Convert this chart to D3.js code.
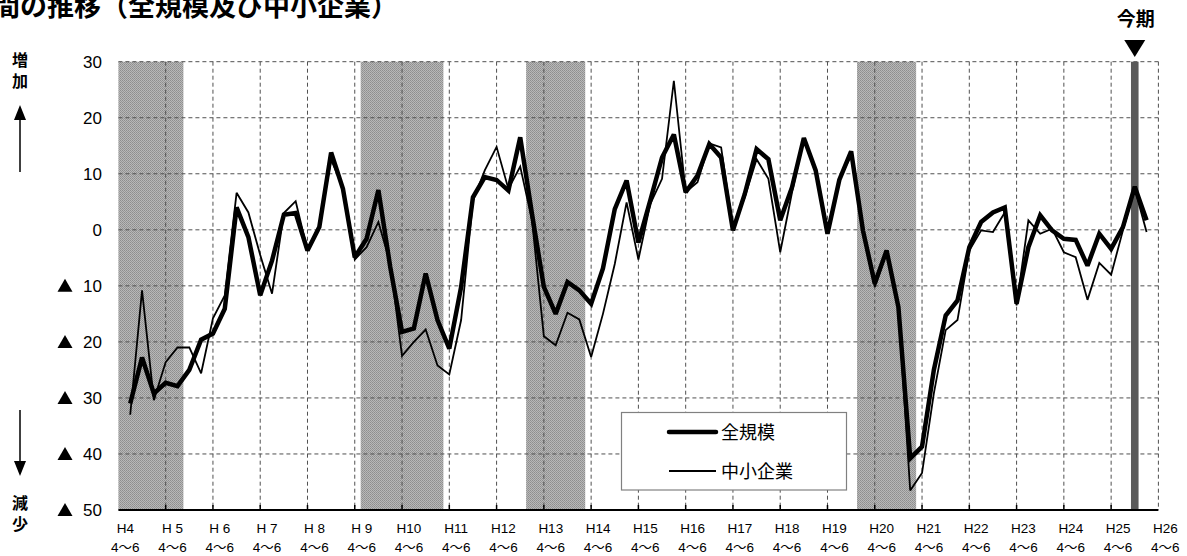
<!DOCTYPE html>
<html>
<head>
<meta charset="utf-8">
<script src="https://cdn.jsdelivr.net/npm/d3@7"></script>
<style>
  html, body { margin: 0; padding: 0; background: #fff; }
  svg { display: block; }
  text { font-family: "Liberation Sans", "Noto Sans CJK JP", sans-serif; }
  .cjk { font-family: "Noto Sans CJK JP", sans-serif; }
</style>
</head>
<body>
<svg id="chart" width="1187" height="556"></svg>
<script>
// ---- data ----
const yearLabels = ["H4","H 5","H 6","H 7","H 8","H 9","H10","H11","H12","H13","H14","H15","H16","H17","H18","H19","H20","H21","H22","H23","H24","H25","H26"];
const quarterLabel = "4～6";
const quarterNames = ["4-6","7-9","10-12","1-3"];
// series start at H4 7-9 (quarter index 1)
const allScale = [
  -31, -22.8, -29.2, -27.3, -27.9, -25, -19.6, -18.5, -14.1, 4.0,
  -1.3, -11.7, -5.5, 2.7, 3.0, -3.7, 0.5, 13.8, 7.3, -4.9,
  -1.6, 7.1, -6.6, -18.2, -17.6, -7.8, -16.1, -21.2, -10.2, 5.8,
  9.4, 8.9, 7.0, 16.5, 2.8, -10.2, -15.0, -9.3, -10.8, -13.2,
  -6.9, 3.7, 8.8, -2.3, 5.2, 12.9, 17.0, 6.7, 9.7, 15.3,
  12.9, -0.1, 6.4, 14.4, 12.6, 1.7, 7.6, 16.4, 10.6, -0.7,
  8.9, 14.0, -0.1, -9.6, -3.7, -13.8, -40.8, -38.7, -25, -15.3,
  -12.6, -3.1, 1.4, 3.1, 4.0, -13.2, -3.1, 2.6, -0.1, -1.6,
  -1.8, -6.4, -0.7, -3.4, 0.5, 7.7, 1.7
];
const smallMedium = [
  -33, -10.8, -30.4, -23.6, -21, -21, -25.6, -15.8, -11.7, 6.6,
  3.1, -4.5, -11.4, 3.0, 5.1, -3.7, 0.8, 12.5, 7.5, -5.3,
  -3.1, 1.4, -6, -22.5, -20, -17.8, -24.2, -25.8, -16.1, 5.2,
  10.6, 14.8, 7.3, 11.3, 1.7, -19, -20.6, -14.8, -16, -22.7,
  -15, -6.1, 4.9, -5.3, 4.6, 9.1, 26.6, 6.7, 8.5, 15.4,
  14.7, 0.2, 5.8, 12.6, 9.1, -4.0, 6.7, 16.2, 10.3, -0.1,
  9.1, 13.2, -0.7, -10.2, -4.0, -14, -46.5, -43.4, -29.2, -17.9,
  -16.1, -3.7, -0.1, -0.4, 3.1, -13.5, 1.7, -0.7, 0.2, -4.0,
  -4.9, -12.5, -5.9, -8.0, -0.1, 7.3, -0.4
];
// recession periods, in quarters counted from H4 4-6
const recessions = [[0, 5.5], [20.5, 27.5], [34.5, 39.5], [62.5, 67.5]];
const currentQuarter = 86;
const yTickValues = [30, 20, 10, 0, -10, -20, -30, -40, -50];
const seriesNames = ["全規模", "中小企業"];
const titleText = "間の推移（全規模及び中小企業）";

// build quarter categories from year labels
const quarters = [];
yearLabels.slice(0, -1).forEach(yl => quarterNames.forEach(q => quarters.push(yl.replace(" ", "") + " " + q)));

// ---- scales ----
const svg = d3.select("#chart");
const x = d3.scaleLinear().domain([0, 88]).range([118.4, 1158.4]);
const y = d3.scaleLinear().domain([-50, 30]).range([510, 61.7]);

// pattern for recession bands
const defs = svg.append("defs");
const pat = defs.append("pattern").attr("id", "dots").attr("width", 2).attr("height", 2).attr("patternUnits", "userSpaceOnUse");
pat.append("rect").attr("width", 2).attr("height", 2).attr("fill", "#b8b8b8");
pat.append("rect").attr("width", 1).attr("height", 1).attr("fill", "#8e8e8e");
pat.append("rect").attr("x", 1).attr("y", 1).attr("width", 1).attr("height", 1).attr("fill", "#979797");

// title (clipped at top/left like the reference)
svg.append("text").attr("class", "cjk").attr("x", -7).attr("y", 16)
  .attr("font-size", 27).attr("font-weight", "bold").attr("fill", "#000").text(titleText);

// recession bands
svg.append("g").selectAll("rect").data(recessions).join("rect")
  .attr("x", d => x(d[0])).attr("width", d => x(d[1]) - x(d[0]))
  .attr("y", y(30)).attr("height", y(-50) - y(30))
  .attr("fill", "url(#dots)");

// horizontal grid
svg.append("g").selectAll("line").data(yTickValues.filter(v => v > -50)).join("line")
  .attr("x1", x(0)).attr("x2", x(88)).attr("y1", d => y(d)).attr("y2", d => y(d))
  .attr("stroke", "#505050").attr("stroke-width", 1).attr("stroke-dasharray", "4,3");

// vertical grid (year boundaries)
const yearIdx = d3.range(1, 23);
svg.append("g").selectAll("line").data(yearIdx).join("line")
  .attr("x1", d => x(d * 4)).attr("x2", d => x(d * 4)).attr("y1", y(30)).attr("y2", y(-50))
  .attr("stroke", "#505050").attr("stroke-width", 1).attr("stroke-dasharray", "4,3");

// current period bar
svg.append("rect").attr("x", x(currentQuarter) - 3.8).attr("width", 7.6)
  .attr("y", y(30)).attr("height", y(-50) - y(30)).attr("fill", "#595959");

// x axis line and ticks
svg.append("line").attr("x1", x(0)).attr("x2", x(88)).attr("y1", y(-50)).attr("y2", y(-50))
  .attr("stroke", "#000").attr("stroke-width", 2);
svg.append("g").selectAll("line").data(d3.range(1, 22)).join("line")
  .attr("x1", d => x(d * 4)).attr("x2", d => x(d * 4)).attr("y1", y(-50)).attr("y2", y(-50) - 5)
  .attr("stroke", "#000").attr("stroke-width", 1.5);

// x labels
const xl = svg.append("g").attr("font-size", 13.5).attr("fill", "#000").attr("text-anchor", "middle");
yearLabels.forEach((lab, i) => {
  const cx = x(i * 4 + 0.5) + 1;
  xl.append("text").attr("x", cx).attr("y", 533).text(lab);
  xl.append("text").attr("x", cx).attr("y", 552).text(quarterLabel);
});

// y labels
const yl = svg.append("g").attr("font-size", 17).attr("fill", "#000");
yTickValues.forEach(v => {
  yl.append("text").attr("x", 102).attr("y", y(v) + 6).attr("text-anchor", "end").text(Math.abs(v));
  if (v < 0) {
    const cy = y(v), cx = 65;
    yl.append("path").attr("d", `M${cx - 7.5},${cy + 6} L${cx + 7.5},${cy + 6} L${cx},${cy - 7} Z`).attr("fill", "#000");
  }
});

// left side labels and arrows
const side = svg.append("g").attr("class", "cjk").attr("font-size", 16).attr("font-weight", "bold").attr("text-anchor", "middle");
side.append("text").attr("x", 20).attr("y", 66).text("増");
side.append("text").attr("x", 20).attr("y", 87).text("加");
side.append("text").attr("x", 20).attr("y", 509).text("減");
side.append("text").attr("x", 20).attr("y", 530).text("少");
svg.append("line").attr("x1", 20).attr("x2", 20).attr("y1", 118).attr("y2", 172).attr("stroke", "#000").attr("stroke-width", 1.5);
svg.append("path").attr("d", "M14,120 L26,120 L20,105 Z").attr("fill", "#000");
svg.append("line").attr("x1", 20).attr("x2", 20).attr("y1", 410).attr("y2", 463).attr("stroke", "#000").attr("stroke-width", 1.5);
svg.append("path").attr("d", "M14,461 L26,461 L20,476 Z").attr("fill", "#000");

// 今期 marker
svg.append("text").attr("class", "cjk").attr("x", x(currentQuarter) + 1).attr("y", 26).attr("text-anchor", "middle")
  .attr("font-size", 19).attr("font-weight", "bold").text("今期");
const cxm = x(currentQuarter);
svg.append("path").attr("d", `M${cxm - 10.5},40 L${cxm + 10.5},40 L${cxm},57 Z`).attr("fill", "#000");

// lines
const line = d3.line().x((d, i) => x(i + 1)).y(d => y(d));
svg.append("path").datum(smallMedium).attr("d", line).attr("fill", "none")
  .attr("stroke", "#000").attr("stroke-width", 1.8).attr("stroke-linejoin", "miter").attr("stroke-miterlimit", 3);
svg.append("path").datum(allScale).attr("d", line).attr("fill", "none")
  .attr("stroke", "#000").attr("stroke-width", 4.5).attr("stroke-linejoin", "miter").attr("stroke-miterlimit", 2.5);

// legend
const lg = svg.append("g");
lg.append("rect").attr("x", 621.5).attr("y", 412.5).attr("width", 225).attr("height", 77.5)
  .attr("fill", "#fff").attr("stroke", "#808080").attr("stroke-width", 1.2);
lg.append("line").attr("x1", 669).attr("x2", 716).attr("y1", 432).attr("y2", 432).attr("stroke", "#000").attr("stroke-width", 4.5).attr("stroke-linecap", "round");
lg.append("line").attr("x1", 669).attr("x2", 716).attr("y1", 471).attr("y2", 471).attr("stroke", "#000").attr("stroke-width", 1.8);
lg.append("text").attr("class", "cjk").attr("x", 721).attr("y", 438.5).attr("font-size", 18).text(seriesNames[0]);
lg.append("text").attr("class", "cjk").attr("x", 721).attr("y", 477.5).attr("font-size", 18).text(seriesNames[1]);
</script>
</body>
</html>
